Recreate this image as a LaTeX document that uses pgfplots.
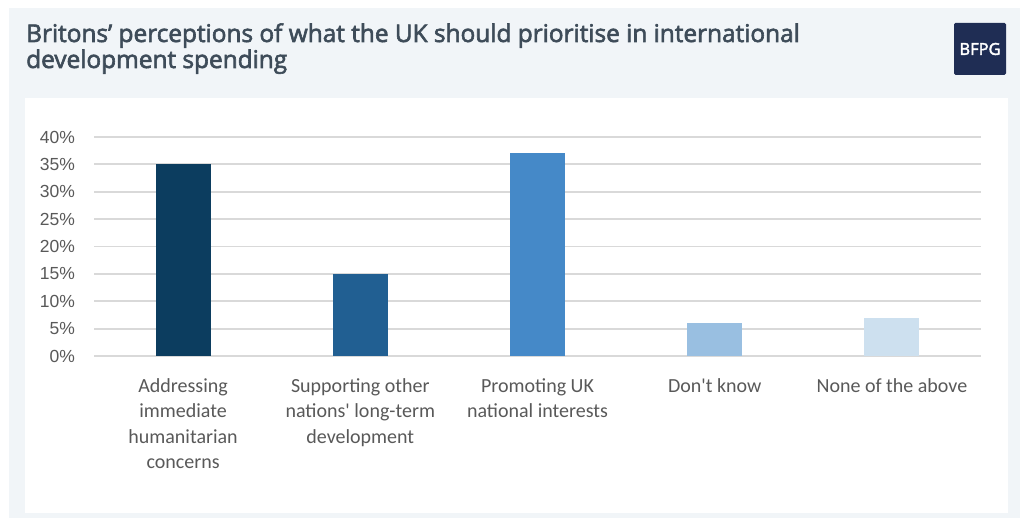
\documentclass[border=0pt]{standalone}
\usepackage{pgfplots}
\pgfplotsset{compat=1.18}
\usepackage{fontspec}
\setmainfont{Liberation Sans}
\newfontfamily\titlefont{Open Sans}[FakeBold=2.5]
\newfontfamily\catfont{Carlito}
\newfontfamily\logofont{Open Sans}[FakeBold=2.5]
\definecolor{panel}{HTML}{F1F5F8}
\definecolor{titlec}{HTML}{3E4C59}
\definecolor{logoc}{HTML}{1F2D54}
\definecolor{gridc}{HTML}{D9D9D9}
\definecolor{tickc}{HTML}{595959}
\definecolor{cA}{HTML}{0C3D5F}
\definecolor{cB}{HTML}{215F92}
\definecolor{cC}{HTML}{4589C8}
\definecolor{cD}{HTML}{99BFE1}
\definecolor{cE}{HTML}{CDE0EF}
\begin{document}
\begin{tikzpicture}[x=1pt,y=1pt]
\useasboundingbox (0,0) rectangle (1021,518);
% background (y = 518 - pixel y)
\fill[white] (0,0) rectangle (1021,518);
\fill[panel] (9,0) rectangle (1020,510);
\fill[white] (25,5) rectangle (1008,420);
\node[anchor=base west, inner sep=0pt, text=titlec, font=\titlefont\fontsize{24.4}{26}\selectfont]
  at (26,476) {Britons’ perceptions of what the UK should prioritise in international};
\node[anchor=base west, inner sep=0pt, text=titlec, font=\titlefont\fontsize{24.4}{26}\selectfont]
  at (26,450) {development spending};
\fill[logoc, rounded corners=1.5pt] (954,443) rectangle (1006,495);
\node[text=white, font=\logofont\fontsize{16.5}{18}\selectfont] at (980,469) {BFPG};
\begin{axis}[
  at={(94.5pt,162pt)}, anchor=south west,
  scale only axis, width=886pt, height=219pt,
  xmin=-0.5, xmax=4.5, ymin=0, ymax=40,
  axis line style={draw=none},
  ytick={0,5,...,40},
  yticklabels={0\%,5\%,10\%,15\%,20\%,25\%,30\%,35\%,40\%},
  ymajorgrids, grid style={gridc, line width=1.9pt},
  major tick length=0pt,
  xtick={0,1,2,3,4},
  xticklabels={{Addressing\\immediate\\humanitarian\\concerns},{Supporting other\\nations' long-term\\development},{Promoting UK\\national interests},{Don't know},{None of the above}},
  xticklabel style={align=center, font=\catfont\fontsize{20}{25.5}\selectfont, text=tickc, anchor=north, yshift=-19pt},
  yticklabel style={font=\fontsize{17.5}{19}\selectfont, text=tickc, anchor=east, xshift=-16pt},
  /pgf/number format/assume math mode=true,
  ybar, bar width=55pt, bar shift=0pt,
  clip=false,
]
\addplot[fill=cA, draw=none] coordinates {(0,35)};
\addplot[fill=cB, draw=none] coordinates {(1,15)};
\addplot[fill=cC, draw=none] coordinates {(2,37)};
\addplot[fill=cD, draw=none] coordinates {(3,6)};
\addplot[fill=cE, draw=none] coordinates {(4,7)};
\end{axis}
\end{tikzpicture}
\end{document}
